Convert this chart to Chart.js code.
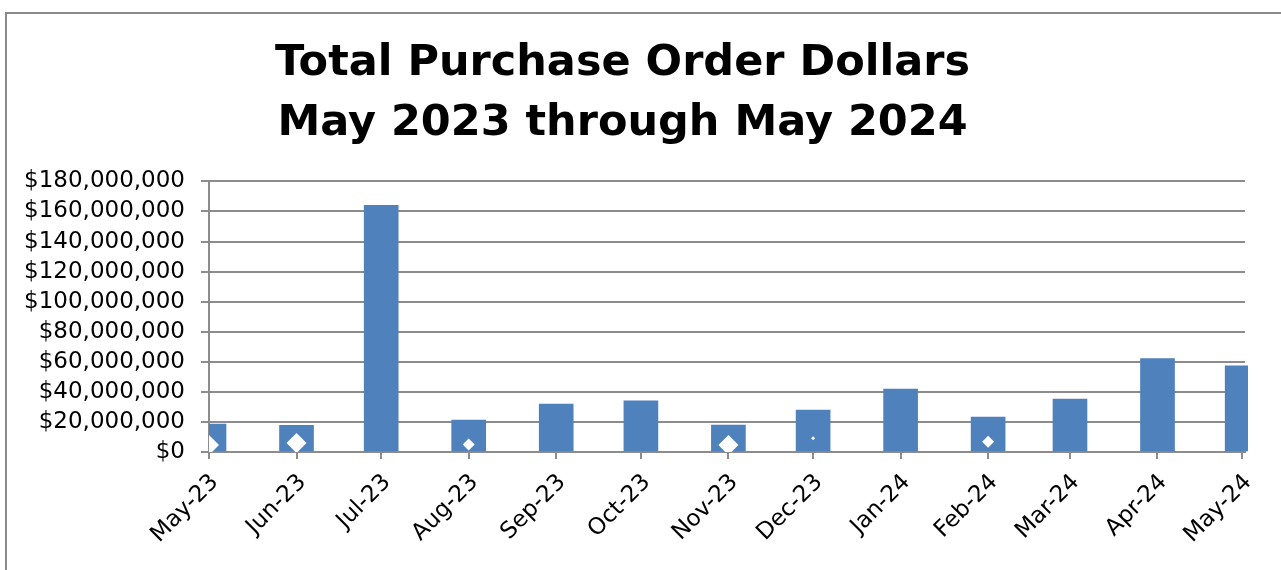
<!DOCTYPE html>
<html>
<head>
<meta charset="utf-8">
<title>Total Purchase Order Dollars</title>
<script src="https://cdn.jsdelivr.net/npm/chart.js@4/dist/chart.umd.min.js"></script>
<style>
  html, body { margin: 0; padding: 0; background: #fff; overflow: hidden; }
  #wrap { position: relative; width: 1281px; height: 570px; }
  #frame {
    position: absolute; left: 5px; top: 12px; width: 1300px; height: 600px;
    border: 2px solid #8a8a8a; pointer-events: none;
  }
</style>
</head>
<body>
<div id="wrap">
  <canvas id="poChart" width="1281" height="570"></canvas>
  <div id="frame"></div>
</div>
<script>
// month labels and their day offset from May 1, 2023
const monthLabels = ['May-23', 'Jun-23', 'Jul-23', 'Aug-23', 'Sep-23', 'Oct-23', 'Nov-23',
                     'Dec-23', 'Jan-24', 'Feb-24', 'Mar-24', 'Apr-24', 'May-24'];
const monthStartDays = [0, 31, 61, 92, 123, 153, 184, 214, 245, 276, 305, 336, 366];

// total PO dollars per month
const poDollars = [18600000, 17700000, 164000000, 21300000, 31900000, 34100000, 17900000,
                   27900000, 41800000, 23200000, 35200000, 62200000, 57300000];

// small white diamond markers (null = none that month)
const markerValues = [4600000, 6000000, null, 5000000, null, null, 4600000,
                      9100000, null, 6800000, null, null, null];
const markerRadius = [10, 10, 0, 6, 0, 0, 10, 2, 0, 6, 0, 0, 0];

const yTicks = { min: 0, max: 180000000, step: 20000000 };

const gridGray = '#8c8c8c';
const axisFont = { family: 'DejaVu Sans', size: 23 };

const barPoints = monthStartDays.map((d, i) => ({ x: d, y: poDollars[i] }));
const markerPoints = monthStartDays.map((d, i) => ({ x: d, y: markerValues[i] }));

new Chart(document.getElementById('poChart'), {
  type: 'bar',
  data: {
    datasets: [
      {
        type: 'line',
        data: markerPoints,
        showLine: false,
        pointStyle: 'rectRot',
        pointRadius: markerRadius,
        pointBackgroundColor: '#ffffff',
        pointBorderWidth: 0,
        clip: { left: 0, right: 3, top: 0, bottom: 0 },
        order: 0
      },
      {
        data: barPoints,
        backgroundColor: '#4f81bd',
        barThickness: 34,
        clip: { left: 0, right: 3, top: 0, bottom: 0 },
        order: 1
      }
    ]
  },
  options: {
    responsive: false,
    devicePixelRatio: 1,
    animation: false,
    layout: { padding: { top: 0, right: 36, bottom: 0, left: 0 } },
    plugins: {
      legend: { display: false },
      tooltip: { enabled: false },
      title: {
        display: true,
        text: ['Total Purchase Order Dollars', 'May 2023 through May 2024'],
        color: '#000',
        font: { family: 'DejaVu Sans', size: 43, weight: 'bold', lineHeight: 1.4 },
        padding: { top: 34, bottom: 27 }
      }
    },
    scales: {
      x: {
        type: 'linear',
        offset: false,
        min: 0,
        max: 367,
        afterBuildTicks: (scale) => { scale.ticks = monthStartDays.map(v => ({ value: v })); },
        afterFit: (scale) => { scale.height = 118; },
        ticks: {
          autoSkip: false,
          maxRotation: 45,
          minRotation: 45,
          padding: 10,
          labelOffset: 6,
          color: '#000',
          font: axisFont,
          callback: (value, index) => monthLabels[index]
        },
        grid: { offset: false, drawOnChartArea: false, drawTicks: true, tickLength: 7, color: gridGray, lineWidth: 2 },
        border: { display: true, color: gridGray, width: 2 }
      },
      y: {
        min: yTicks.min,
        max: yTicks.max,
        afterFit: (scale) => { scale.width = 209; },
        ticks: {
          autoSkip: false,
          stepSize: yTicks.step,
          padding: 16,
          color: '#000',
          font: axisFont,
          callback: (v) => '$' + v.toLocaleString('en-US')
        },
        grid: { color: gridGray, lineWidth: 2, tickLength: 8 },
        border: { display: true, color: gridGray, width: 2 }
      }
    }
  }
});
</script>
</body>
</html>
